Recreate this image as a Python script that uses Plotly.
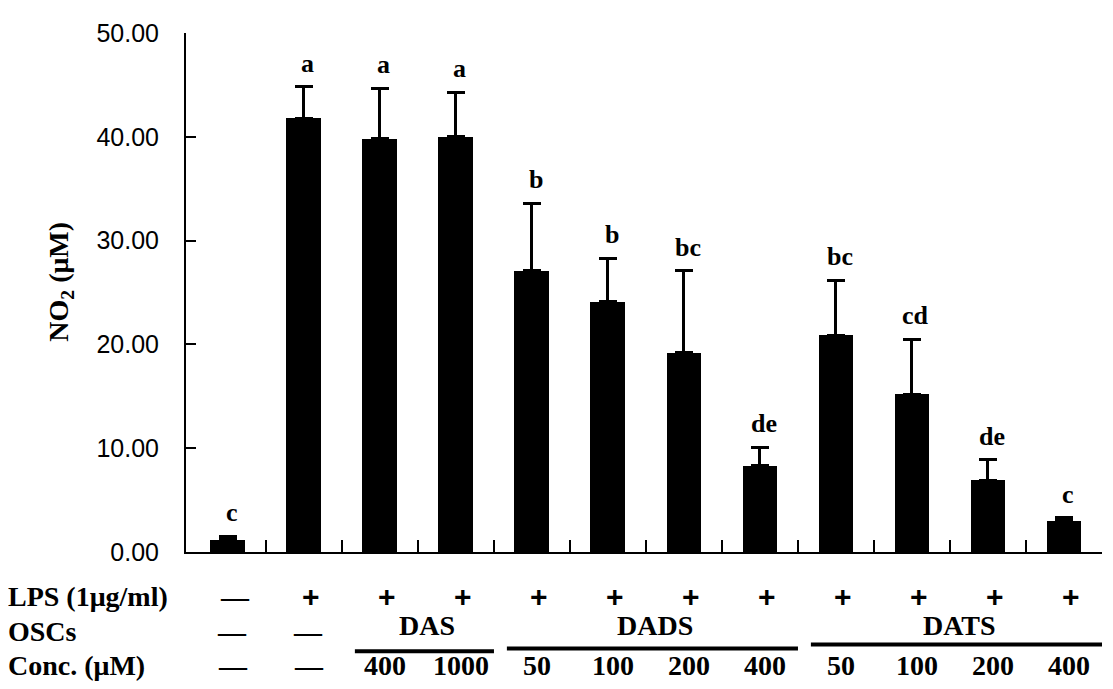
import plotly.graph_objects as go

# ---- data ----
lps = ["—", "+", "+", "+", "+", "+", "+", "+", "+", "+", "+", "+"]
osc_single = ["—", "—"]
groups = ["DAS", "DADS", "DATS"]
group_start = [2, 4, 8]
group_end = [3, 7, 11]
conc = ["—", "—", "400", "1000", "50", "100", "200", "400", "50", "100", "200", "400"]
no2_mean = [1.2, 41.8, 39.8, 40.0, 27.1, 24.1, 19.2, 8.3, 20.9, 15.2, 6.9, 3.0]
no2_err = [0.3, 3.0, 4.9, 4.3, 6.5, 4.2, 7.9, 1.8, 5.3, 5.3, 2.0, 0.3]
letters = ["c", "a", "a", "a", "b", "b", "bc", "de", "bc", "cd", "de", "c"]
y_ticks = [0, 10, 20, 30, 40, 50]

n = len(no2_mean)
xs = list(range(n))

SERIF = "Liberation Serif, Times New Roman, serif"
SANS = "Liberation Sans, Arial, sans-serif"

fig = go.Figure()
fig.add_trace(go.Bar(
    x=xs, y=no2_mean, width=0.46,
    marker=dict(color="black", line=dict(width=0)),
    error_y=dict(type="data", symmetric=False, array=no2_err,
                 arrayminus=[0] * n, color="black", thickness=3, width=9),
    showlegend=False, hoverinfo="skip",
))

ann = []
# significance letters
for i in xs:
    ann.append(dict(x=i + 0.05, y=no2_mean[i] + no2_err[i], xref="x", yref="y",
                    text=letters[i], showarrow=False, yanchor="bottom", yshift=7,
                    font=dict(family=SERIF, size=26, color="black", weight="bold")))

# table rows
row_y = {"lps": -0.085, "osc": -0.153, "conc": -0.218}
group_label_y = -0.142
row_labels = [("LPS (1μg/ml)", "lps"), ("OSCs", "osc"), ("Conc. (μM)", "conc")]
for txt, key in row_labels:
    ann.append(dict(x=-0.196, y=row_y[key], xref="paper", yref="paper", text=txt,
                    showarrow=False, xanchor="left", yanchor="middle",
                    font=dict(family=SERIF, size=28, color="black", weight="bold")))

for i in xs:
    is_plus = lps[i] == "+"
    ann.append(dict(x=i + 0.09, y=row_y["lps"], xref="x", yref="paper", text=lps[i],
                    showarrow=False, yanchor="middle",
                    font=dict(family=SANS if is_plus else SERIF, size=30 if is_plus else 28,
                              color="black", weight="bold")))
    ann.append(dict(x=i + 0.07, y=row_y["conc"], xref="x", yref="paper", text=conc[i],
                    showarrow=False, yanchor="middle",
                    font=dict(family=SERIF, size=28, color="black", weight="bold")))
for i, t in enumerate(osc_single):
    ann.append(dict(x=i + 0.05, y=row_y["osc"], xref="x", yref="paper", text=t,
                    showarrow=False, yanchor="middle",
                    font=dict(family=SERIF, size=28, color="black", weight="bold")))

shapes = []
line_y = [-0.191, -0.186, -0.178]
for g, s, e, ly in zip(groups, group_start, group_end, line_y):
    ann.append(dict(x=(s + e) / 2 + 0.12, y=group_label_y, xref="x", yref="paper", text=g,
                    showarrow=False, yanchor="middle",
                    font=dict(family=SERIF, size=28, color="black", weight="bold")))
    shapes.append(dict(type="line", xref="x", yref="paper", x0=s - 0.33, x1=e + 0.5,
                       y0=ly, y1=ly, line=dict(color="black", width=4)))

# y axis title
ann.append(dict(x=-0.137, y=0.52, xref="paper", yref="paper", text="NO<sub>2</sub> (μM)",
                showarrow=False, textangle=-90, xanchor="center", yanchor="middle",
                font=dict(family=SERIF, size=28, color="black", weight="bold")))

fig.update_layout(
    width=1105, height=681,
    margin=dict(l=178, r=11, t=16, b=137),
    plot_bgcolor="white", paper_bgcolor="white",
    annotations=ann, shapes=shapes,
    bargap=0,
    xaxis=dict(range=[-0.552, 11.5], showgrid=False, zeroline=False,
               showline=True, linecolor="black", linewidth=2,
               tickmode="array", tickvals=[k + 0.5 for k in range(n)],
               ticktext=[""] * n, ticks="inside", ticklen=12, tickwidth=2,
               tickcolor="black", showticklabels=False),
    yaxis=dict(range=[0, 50], showgrid=False, zeroline=False,
               showline=True, linecolor="black", linewidth=2,
               tickmode="array", tickvals=y_ticks,
               ticktext=[f"{v:.2f}" for v in y_ticks],
               ticks="inside", ticklen=10, tickwidth=2, tickcolor="black",
               ticklabelstandoff=20,
               tickfont=dict(family=SANS, size=25, color="black")),
)

fig.write_html("out.html")
